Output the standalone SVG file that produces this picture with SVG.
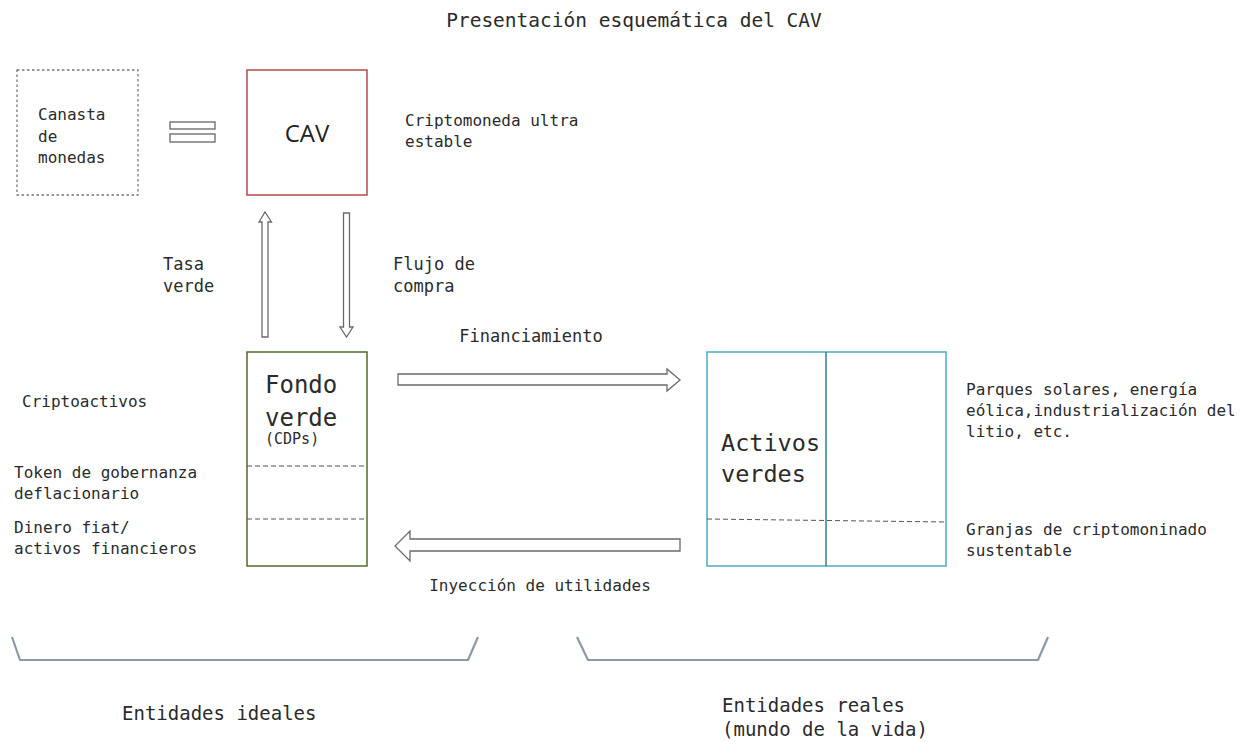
<svg xmlns="http://www.w3.org/2000/svg" width="1247" height="742" viewBox="0 0 1247 742">
<style>
.t{font-family:"DejaVu Sans Mono","Liberation Mono",monospace;fill:#2b2b2b;font-size:16px}
.m{font-size:17px}
.big{font-size:23.5px}
.arr{fill:#fff;stroke:#6a6a6a;stroke-width:1.3}
.dash{stroke:#555;stroke-width:1;stroke-dasharray:5 3;fill:none}
.br{fill:none;stroke:#8a9aaa;stroke-width:2.2;stroke-linejoin:round}
</style>
<rect width="1247" height="742" fill="#fff"/>
<text class="t" x="634" y="27" font-size="19.5" text-anchor="middle" style="font-size:19.5px">Presentación esquemática del CAV</text>

<g id="canasta">
<rect x="17" y="70" width="121" height="125" fill="none" stroke="#777" stroke-width="1.3" stroke-dasharray="2.5 2.5"/>
<text class="t" x="38" y="120">Canasta</text>
<text class="t" x="38" y="142">de</text>
<text class="t" x="38" y="163">monedas</text>
</g>

<g id="igual">
<rect x="170" y="122" width="45" height="7" fill="#fff" stroke="#666" stroke-width="1.3"/>
<rect x="170" y="134" width="45" height="8" fill="#fff" stroke="#666" stroke-width="1.3"/>
</g>

<g id="cav">
<rect x="247" y="70" width="120" height="125" fill="#fff" stroke="#b5494a" stroke-width="1.5"/>
<text x="307" y="142" text-anchor="middle" font-family="'Open Sans','Liberation Sans',sans-serif" font-size="24" fill="#222">CAV</text>
</g>
<g id="cav-desc">
<text class="t" x="405" y="126">Criptomoneda ultra</text>
<text class="t" x="405" y="147">estable</text>
</g>

<g id="connectors">
<polygon class="arr" points="262,337 262,222 259,222 265,212 271.5,222 268,222 268,337"/>
<polygon class="arr" points="343.5,213 349.5,213 349.5,327 353,327 346.5,337 340,327 343.5,327"/>
<polygon class="arr" points="398,374 667,374 667,369 680,380 667,391 667,385 398,385"/>
<polygon class="arr" points="680,539 410,539 410,531 395,546 410,561 410,551 680,551"/>
<path class="br" d="M12,637 L20,660 L468,660 L478,637"/>
<path class="br" d="M577,637 L588,660 L1038,660 L1048,637"/>
</g>

<g id="labels-flow">
<text class="t m" x="163" y="270">Tasa</text>
<text class="t m" x="163" y="292">verde</text>
<text class="t m" x="393" y="270">Flujo de</text>
<text class="t m" x="393" y="292">compra</text>
<text class="t m" x="531" y="342" text-anchor="middle">Financiamiento</text>
<text class="t" x="540" y="591" text-anchor="middle">Inyección de utilidades</text>
</g>

<g id="fondo">
<rect x="247" y="352" width="120" height="214" fill="#fff" stroke="#4f6b2a" stroke-width="1.5"/>
<line class="dash" x1="247" y1="466" x2="367" y2="466"/>
<line class="dash" x1="247" y1="519" x2="367" y2="519"/>
<text class="t" x="265" y="393" style="font-size:24px">Fondo</text>
<text class="t" x="265" y="426" style="font-size:24px">verde</text>
<text class="t" x="265" y="444" style="font-size:15px">(CDPs)</text>
</g>
<g id="fondo-labels">
<text class="t" x="22" y="407">Criptoactivos</text>
<text class="t" x="14" y="478">Token de gobernanza</text>
<text class="t" x="14" y="499">deflacionario</text>
<text class="t" x="14" y="533">Dinero fiat/</text>
<text class="t" x="14" y="554">activos financieros</text>
</g>

<g id="activos">
<rect x="707" y="352" width="239" height="214" fill="#fff" stroke="#4bacc6" stroke-width="1.5"/>
<line x1="826" y1="352" x2="826" y2="566" stroke="#2f7f8f" stroke-width="1.5"/>
<line class="dash" x1="707" y1="519" x2="946" y2="522"/>
<text class="t big" x="721" y="451">Activos</text>
<text class="t big" x="721" y="482">verdes</text>
</g>
<g id="activos-labels">
<text class="t" x="966" y="395">Parques solares, energía</text>
<text class="t" x="966" y="416">eólica,industrialización del</text>
<text class="t" x="966" y="437">litio, etc.</text>
<text class="t" x="966" y="535">Granjas de criptomoninado</text>
<text class="t" x="966" y="556">sustentable</text>
</g>

<g id="entidades">
<text class="t" x="122" y="720" style="font-size:19px">Entidades ideales</text>
<text class="t" x="722" y="712" style="font-size:19px">Entidades reales</text>
<text class="t" x="722" y="736" style="font-size:19px">(mundo de la vida)</text>
</g>
</svg>
